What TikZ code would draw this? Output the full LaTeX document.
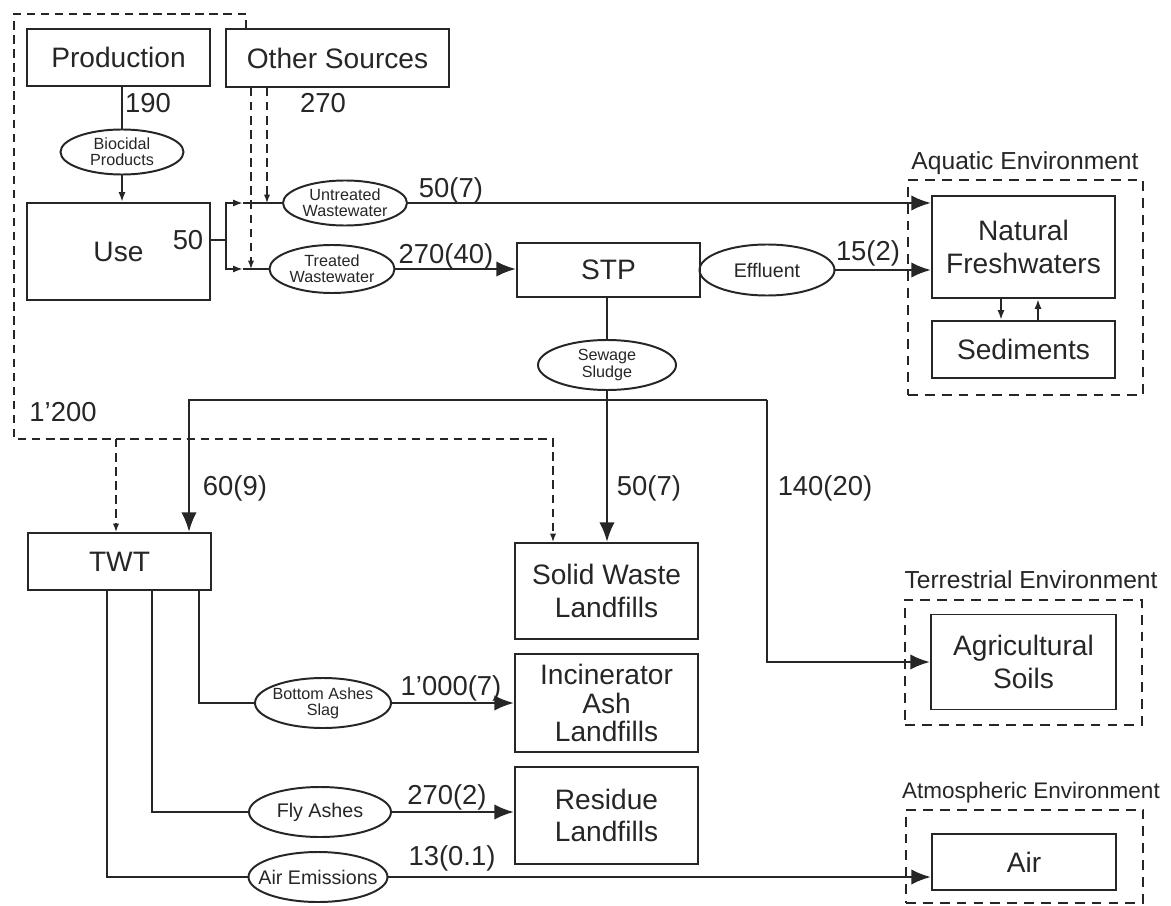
\documentclass[tikz,border=0pt]{standalone}
\usepackage{fontspec}
\setmainfont{Liberation Sans}
\usepackage{tikz}
\usetikzlibrary{arrows.meta,calc,positioning,shapes.geometric}
\def\pxu{0.025cm}
\tikzset{
  mfa scheme/.style = {
    line width = 1.4pt,
    color      = black!85,
    % blocks
    bx/.style 2 args = {draw, rectangle, inner sep=0pt,
      minimum width=##1*\pxu, minimum height=##2*\pxu,
      align=center, font=\fontsize{20}{23}\selectfont},
    % ovals
    ov/.style 2 args = {draw, ellipse, inner xsep=-12pt, inner ysep=-6pt,
      minimum width=##1*\pxu, minimum height=##2*\pxu,
      align=center, font=\fontsize{11.5}{11.5}\selectfont},
    ov big/.style = {font=\fontsize{14}{14}\selectfont},
    % environments
    env/.style 2 args = {draw, rectangle, line width=1pt,
      dash pattern=on 7pt off 5pt,
      minimum width=##1*\pxu, minimum height=##2*\pxu},
    env label/.style = {inner sep=0pt, font=\fontsize{17.5}{17.5}\selectfont},
    num/.style       = {inner sep=0pt, font=\fontsize{19.5}{19.5}\selectfont},
    % lines, arrows
    flow/.style        = {line width=1.8pt, -{Latex[length=14pt,width=11pt]}},
    small arrow/.style = {-{Latex[length=7pt,width=5pt]}},
    dash line/.style   = {line width=1pt, dash pattern=on 6pt off 4pt},
    dash arrow/.style  = {dash line, -{Latex[length=6pt,width=4.5pt]}},
  }
}
\begin{document}
\begin{tikzpicture}[mfa scheme, x=\pxu, y=-\pxu]
\useasboundingbox (0,0) rectangle (1171,906);

%---------------------------------------------
\node[bx={183}{57}]  (prod)  at (118.5,57.5)  {Production};
\node[bx={223}{58}]  (other) at (337.5,58)    {Other Sources};
\node[bx={183}{97}]  (use)   at (118.5,251.5) {Use};
\node[bx={183}{54}]  (stp)   at (608.5,270)   {STP};
\node[bx={183}{102}] (fresh) at (1023.5,247)  {Natural\\Freshwaters};
\node[bx={183}{57}]  (sed)   at (1023.5,349.5){Sediments};
\node[bx={183}{57}]  (twt)   at (119.5,561.5) {TWT};
\node[bx={183}{96}]  (solid) at (606.5,591)   {Solid Waste\\Landfills};
\node[bx={183}{98}]  (incin) at (606.5,703)   {Incinerator\\[-3pt]Ash\\[-3pt]Landfills};
\node[bx={183}{97}]  (resid) at (606.5,815.5) {Residue\\Landfills};
\node[bx={185}{95}]  (agri)  at (1023.5,662)  {Agricultural\\Soils};
\node[bx={184}{56}]  (air)   at (1024,862)    {Air};

\node[ov={123}{45}]         (bio)    at (122,152) {Biocidal\\Products};
\node[ov={124}{45}]         (untr)   at (345,203) {Untreated\\Wastewater};
\node[ov={125}{48}]         (trea)   at (332,269) {Treated\\Wastewater};
\node[ov={135}{51}, ov big] (eff)    at (767,270) {Effluent};
\node[ov={138}{50}]         (sludge) at (607,365) {Sewage\\Sludge};
\node[ov={136}{50}]         (bottom) at (323,703) {Bottom Ashes\\Slag};
\node[ov={142}{50}, ov big] (fly)    at (320,812) {Fly Ashes};
\node[ov={139}{50}, ov big] (airem)  at (318,877) {Air Emissions};

\node[env={235}{215}] (aqua) at (1025.5,287.5) {};
\node[env={237}{125}] (terr) at (1023.5,662.5) {};
\node[env={237}{93}]  (atmo) at (1024.5,856.5) {};
\node[env label] (aqualab) at (1025,163) {Aquatic Environment};
\node[env label] (terrlab) at (1031,580) {Terrestrial Environment};
\node[env label, font=\fontsize{16}{16}\selectfont] (atmolab) at (1031,793) {Atmospheric Environment};

%---------------------------------------------
\node[num] (n190)  at (148,103) {190};
\node[num] (n270)  at (323,103) {270};
\node[num] (n50)   at (188,240) {50};
\node[num] (nunt)  at (451,190) {50(7)};
\node[num] (ntre)  at (446,256) {270(40)};
\node[num] (neff)  at (868,253) {15(2)};
\node[num] (n1200) at (63,412)  {1'200};
\node[num] (ntwt)  at (235,488) {60(9)};
\node[num] (nsol)  at (649,488) {50(7)};
\node[num] (nagr)  at (825,488) {140(20)};
\node[num] (nbot)  at (451,688) {1'000(7)};
\node[num] (nfly)  at (447,797) {270(2)};
\node[num] (nair)  at (452,858) {13(0.1)};

%---------------------------------------------
\coordinate (jn) at (226,240);
\coordinate (ju) at (243,203);
\coordinate (jt) at (243,269);
\coordinate (du) at (267,203);
\coordinate (dt) at (251,269);
\coordinate (jl) at (189,400);
\coordinate (jr) at (767,400);
\coordinate (dc) at (14,439);
\coordinate (dr) at (553,439);
\coordinate (dw) at (116,439);

\draw (bio.north |- prod.south) -- (bio.north);
\draw[small arrow] (bio.south) -- (bio.south |- use.north);
\draw (jn -| use.east) -- (jn);
\draw[small arrow] (jn) |- (ju);
\draw (ju) -- (untr.west);
\draw[small arrow] (jn) |- (jt);
\draw (jt) -- (trea.west);
\draw[dash arrow] (du |- other.south) -- (du);
\draw[dash arrow] (dt |- other.south) -- (dt);

\draw[flow] (untr.east) -- (untr.east -| fresh.west);
\draw[flow] (trea.east) -- (trea.east -| stp.west);
\draw (stp.east) -- (eff.west);
\draw[flow] (eff.east) -- (eff.east -| fresh.west);
\draw[small arrow] ($(fresh.south)+(-22.5,0)$) -- ($(sed.north)+(-22.5,0)$);
\draw[small arrow] ($(sed.north)+(14.5,0)$) -- ($(fresh.south)+(14.5,0)$);

\draw (sludge.north |- stp.south) -- (sludge.north);
\draw[flow] (sludge.south) -- (sludge.south |- solid.north);
\draw[flow] (jr) -- (jl) -- (jl |- twt.north);
\draw[flow] (jr) |- (agri.west);

\draw[dash arrow] ($(other.north west)+(21,0)$) |- (14,14) -- (dc) -- (dr) -- (dr |- solid.north);
\draw[dash arrow] (dw) -- (dw |- twt.north);

\draw ($(twt.south)+(79.5,0)$) |- (bottom.west);
\draw ($(twt.south)+(32.5,0)$) |- (fly.west);
\draw ($(twt.south)+(-12.5,0)$) |- (airem.west);
\draw[flow] (bottom.east) -- (bottom.east -| incin.west);
\draw[flow] (fly.east) -- (fly.east -| resid.west);
\draw[flow] (airem.east) -- (airem.east -| air.west);

\end{tikzpicture}
\end{document}
